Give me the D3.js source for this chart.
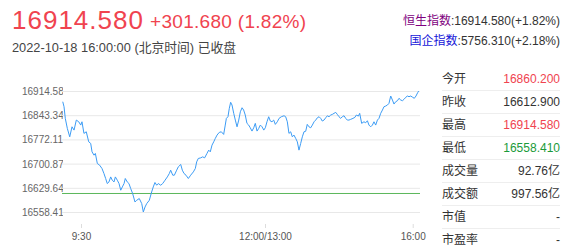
<!DOCTYPE html>
<html><head><meta charset="utf-8">
<script src="https://cdn.jsdelivr.net/npm/d3@7/dist/d3.min.js"></script>
<style>
html,body{margin:0;padding:0;background:#fff;}
svg{display:block;font-family:Arial,"Liberation Sans","Noto Sans CJK SC",sans-serif;}
</style></head>
<body>
<script>
// ---- data ----
const lastPrice = "16914.580";
const change = "+301.680 (1.82%)";
const timeLine = "2022-10-18 16:00:00 (北京时间) 已收盘";
const indexNames = ["恒生指数", "国企指数"];
const indexValues = [":16914.580(+1.82%)", ":5756.310(+2.18%)"];
const statLabels = ["今开","昨收","最高","最低","成交量","成交额","市值","市盈率"];
const statValues = ["16860.200","16612.900","16914.580","16558.410","92.76亿","997.56亿","-","-"];
const statTone   = ["up","flat","up","down","flat","flat","flat","flat"];
const prevClose = 16612.9;
const yTicks = [16558.410, 16629.644, 16700.878, 16772.112, 16843.346, 16914.580];
const xTickMinutes = [15, 165, 345];
const xTickLabels = ["9:30", "12:00/13:00", "16:00"];
// minutes from 9:15 (continuous session; lunch break removed)
const minutes = [0.6,1.6,2.6,4.2,6.1,7.9,9.5,11.3,13.2,14.8,
15.8,17.4,19.3,21.3,22.9,24.0,25.6,26.7,28.3,30.2,32.1,33.7,35.1,36.4,37.8,39.2,40.5,41.9,43.0,44.6,46.0,47.4,48.7,50.1,51.1,52.7,54.1,55.5,57.1,
59.0,60.4,62.5,64.5,65.8,67.2,68.6,70.7,72.6,73.9,75.3,76.7,78.0,80.0,81.6,83.5,85.4,87.0,88.1,89.8,91.1,93.0,94.3,96.3,97.6,99.0,100.6,102.5,104.4,106.6,108.2,109.3,110.6,112.6,114.2,115.8,117.7,119.1,120.4,121.8,123.2,124.5,125.9,127.7,129.4,131.3,132.6,133.5,134.8,135.9,137.0,138.1,139.5,140.8,142.2,143.6,144.9,146.3,147.6,148.9,150.3,151.7,153.0,154.4,155.8,157.1,158.5,159.9,161.2,162.6,164.0,
165.4,167.4,169.5,171.5,173.5,175.6,177.6,180.0,182.1,184.9,188.2,190.2,192.2,194.2,196.3,198.3,200.3,202.4,204.4,206.4,208.5,210.5,212.5,214.6,216.5,218.6,220.7,222.7,224.8,226.8,228.8,230.9,232.9,234.8,236.9,239.0,241.0,243.0,245.1,247.1,249.1,251.2,253.1,255.2,257.3,259.2,261.3,263.4,265.3,267.3,269.4,272.2,274.6,276.3,278.8,280.4,282.8,285.6,287.7,289.8,291.7,293.8,295.9,297.8,299.9,302.0,303.9,306.0,308.1,310.0,312.1,314.2,316.1,318.2,320.3,322.2,324.3,326.4,328.3,330.4,332.5,334.4,336.5,338.6,340.5,342.6,345.0,347.2,349.5,351.8,353.2];
const prices = [16883.0,16868.3,16834.0,16804.5,16779.7,16809.2,16799.5,16829.0,16824.0,16814.3,
16824.0,16789.8,16794.5,16765.0,16760.3,16735.5,16725.7,16730.8,16701.2,16696.2,16686.5,16671.7,16657.0,16642.2,16646.9,16661.7,16652.0,16646.9,16661.7,16652.0,16642.2,16622.5,16632.2,16642.2,16657.0,16646.9,16642.2,16627.5,16612.7,
16587.9,16592.9,16598.0,16583.2,16558.4,16573.2,16583.2,16592.9,16617.4,16632.2,16645.2,16637.2,16642.2,16637.2,16642.2,16652.0,16661.7,16671.7,16681.5,16666.7,16666.7,16681.5,16691.2,16698.3,16681.5,16671.7,16666.7,16657.0,16666.7,16676.5,16686.5,16706.0,16716.0,16717.8,16720.7,16717.8,16730.8,16740.5,16735.5,16755.2,16765.0,16775.0,16784.8,16792.7,16794.5,16786.8,16814.3,16834.0,16838.8,16863.5,16881.3,16873.3,16848.8,16829.0,16809.2,16829.0,16853.5,16865.3,16858.5,16843.8,16819.3,16814.3,16806.3,16796.6,16806.3,16819.3,16796.6,16804.5,16814.3,16809.2,16799.5,
16806.3,16824.0,16838.8,16826.1,16824.0,16829.0,16816.3,16824.0,16834.0,16838.8,16841.7,16838.8,16824.0,16789.8,16794.5,16779.7,16784.8,16775.0,16765.0,16740.5,16760.3,16779.7,16794.5,16796.0,16816.3,16809.2,16806.3,16814.3,16824.0,16829.0,16835.8,16838.8,16834.0,16826.1,16829.0,16835.8,16841.7,16838.8,16843.8,16845.8,16848.8,16851.7,16845.8,16838.8,16834.0,16838.8,16841.7,16834.0,16829.0,16829.0,16831.1,16834.0,16837.0,16843.8,16840.8,16848.8,16819.3,16824.0,16821.1,16827.0,16814.3,16809.2,16814.3,16824.0,16814.3,16829.0,16834.0,16848.8,16858.5,16868.3,16870.3,16873.3,16878.3,16899.8,16888.0,16876.2,16883.0,16886.0,16893.1,16888.0,16886.0,16890.1,16896.0,16899.8,16897.8,16899.8,16896.0,16893.1,16899.8,16909.6,16914.58];

// ---- layout ----
const W = 568, H = 250;
const plot = {left:62, right:420, top:91, bottom:212};
const colUp = "#f0434f", colDown = "#1a9a3a", colText = "#333";

const svg = d3.select("body").append("svg").attr("width", W).attr("height", H);
const defs = svg.append("defs");

// header
svg.append("text").attr("x", 12).attr("y", 28.5).attr("fill", colUp)
  .attr("font-size", 26).attr("letter-spacing", 1).text(lastPrice);
svg.append("text").attr("x", 150).attr("y", 27.5).attr("fill", colUp)
  .attr("font-size", 19).attr("letter-spacing", 0.3).text(change);
svg.append("text").attr("x", 12).attr("y", 52).attr("fill", "#444")
  .attr("font-size", 12.8).text(timeLine);

const linkColors = ["#800080", "#1515d8"];
indexNames.forEach((name, i) => {
  const t = svg.append("text").attr("x", 560).attr("y", 25 + i * 20)
    .attr("text-anchor", "end").attr("font-size", 12);
  t.append("tspan").attr("fill", linkColors[i]).text(name);
  t.append("tspan").attr("fill", colText).text(indexValues[i]);
});

// scales
const x = d3.scaleLinear().domain([0, 15, 165, 345, 355]).range([62, 81, 265, 412.7, 420]);
const y = d3.scaleLinear().domain([yTicks[0], yTicks[yTicks.length - 1]]).range([plot.bottom, plot.top]);

// y labels, clipped by the plot edge
defs.append("clipPath").attr("id", "lab").append("rect")
  .attr("x", 0).attr("y", 0).attr("width", plot.left + 1).attr("height", H);
const yWrap = svg.append("g").attr("clip-path", "url(#lab)");
const ya = yWrap.append("g").attr("transform", `translate(22,0)`)
  .call(d3.axisLeft(y).tickValues(yTicks).tickSize(0).tickFormat(d3.format(".3f")));
ya.select(".domain").remove();
ya.selectAll("text").attr("text-anchor", "start").attr("x", 0).attr("dy", "0.34em")
  .attr("font-size", 10).attr("font-family", null).attr("fill", "#666");

// gridlines
const gg = svg.append("g").attr("transform", `translate(${plot.left},0)`)
  .call(d3.axisLeft(y).tickValues(yTicks).tickSize(-(plot.right - plot.left)).tickFormat(""));
gg.select(".domain").remove();
gg.selectAll("line").attr("stroke", "#e8e8e8");

// x axis
const xa = svg.append("g").attr("transform", `translate(0,224)`)
  .call(d3.axisBottom(x).tickValues(xTickMinutes).tickSize(4).tickPadding(5)
    .tickFormat((d, i) => xTickLabels[i]));
xa.select(".domain").remove();
xa.selectAll("line").attr("stroke", "#ddd");
xa.selectAll("text").attr("font-size", 10).attr("font-family", null).attr("fill", "#555");

// prev close
svg.append("line").attr("x1", plot.left).attr("x2", plot.right)
  .attr("y1", y(prevClose)).attr("y2", y(prevClose))
  .attr("stroke", "#5cb85c").attr("stroke-width", 1);

// price line
const pts = minutes.map((m, i) => [m, prices[i]]);
svg.append("path").datum(pts)
  .attr("fill", "none").attr("stroke", "#3c9cf5").attr("stroke-width", 1)
  .attr("stroke-linejoin", "round")
  .attr("d", d3.line().x(d => x(d[0])).y(d => y(d[1])));

// stats table
const rowY = d3.scaleLinear().domain([0, 7]).range([78.5, 240]);
statLabels.forEach((lab, i) => {
  svg.append("text").attr("x", 442).attr("y", rowY(i)).attr("dy", "0.35em")
    .attr("font-size", 12).attr("fill", colText).text(lab);
  const c = statTone[i] === "up" ? colUp : statTone[i] === "down" ? colDown : colText;
  svg.append("text").attr("x", 560).attr("y", rowY(i)).attr("dy", "0.35em")
    .attr("text-anchor", "end").attr("font-size", 12).attr("fill", c).text(statValues[i]);
  if (i < statLabels.length - 1) {
    const ly = Math.round((rowY(i) + rowY(i + 1)) / 2) + 0.5;
    svg.append("line").attr("x1", 442).attr("x2", 560).attr("y1", ly).attr("y2", ly)
      .attr("stroke", "#eee");
  }
});
</script>
</body></html>
